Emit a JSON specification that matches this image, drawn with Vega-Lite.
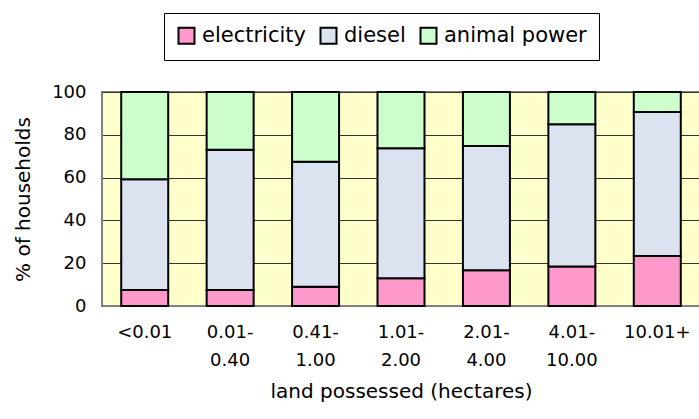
{
  "$schema": "https://vega.github.io/schema/vega-lite/v6.json",
  "width": 598,
  "height": 214,
  "autosize": {"type": "none"},
  "padding": {"left": 102, "top": 92, "right": 0, "bottom": 113},
  "background": "white",
  "data": {
    "values": [
      {"land": "<0.01", "source": "electricity", "pct": 7.5},
      {"land": "<0.01", "source": "diesel", "pct": 51.7},
      {"land": "<0.01", "source": "animal power", "pct": 40.8},
      {"land": "0.01-0.40", "source": "electricity", "pct": 7.5},
      {"land": "0.01-0.40", "source": "diesel", "pct": 65.5},
      {"land": "0.01-0.40", "source": "animal power", "pct": 27.0},
      {"land": "0.41-1.00", "source": "electricity", "pct": 9.0},
      {"land": "0.41-1.00", "source": "diesel", "pct": 58.4},
      {"land": "0.41-1.00", "source": "animal power", "pct": 32.6},
      {"land": "1.01-2.00", "source": "electricity", "pct": 13.0},
      {"land": "1.01-2.00", "source": "diesel", "pct": 60.7},
      {"land": "1.01-2.00", "source": "animal power", "pct": 26.3},
      {"land": "2.01-4.00", "source": "electricity", "pct": 16.7},
      {"land": "2.01-4.00", "source": "diesel", "pct": 58.1},
      {"land": "2.01-4.00", "source": "animal power", "pct": 25.2},
      {"land": "4.01-10.00", "source": "electricity", "pct": 18.4},
      {"land": "4.01-10.00", "source": "diesel", "pct": 66.5},
      {"land": "4.01-10.00", "source": "animal power", "pct": 15.1},
      {"land": "10.01+", "source": "electricity", "pct": 23.4},
      {"land": "10.01+", "source": "diesel", "pct": 67.3},
      {"land": "10.01+", "source": "animal power", "pct": 9.3}
    ]
  },
  "transform": [
    {"calculate": "indexof(['electricity','diesel','animal power'], datum.source)", "as": "stackOrder"}
  ],
  "mark": {"type": "bar", "stroke": "black", "strokeWidth": 2, "strokeJoin": "miter"},
  "encoding": {
    "x": {
      "field": "land",
      "type": "nominal",
      "sort": null,
      "scale": {"paddingInner": 0.45, "paddingOuter": 0.225},
      "axis": {
        "title": "land possessed (hectares)",
        "labelAngle": 0,
        "labelExpr": "indexof(datum.label, '-') > 0 ? [substring(datum.label, 0, indexof(datum.label, '-') + 1), substring(datum.label, indexof(datum.label, '-') + 1)] : datum.label",
        "labelLineHeight": 28,
        "labelBaseline": "top",
        "labelPadding": 17,
        "ticks": false,
        "domainColor": "#808080",
        "titlePadding": 12,
        "titleFontSize": 20
      }
    },
    "y": {
      "field": "pct",
      "type": "quantitative",
      "stack": "zero",
      "scale": {"domain": [0, 100], "nice": false},
      "axis": {
        "title": "% of households",
        "values": [0, 20, 40, 60, 80, 100],
        "ticks": false,
        "labelPadding": 16,
        "grid": true,
        "gridColor": "#333333",
        "gridWidth": 1,
        "domainColor": "#808080",
        "titlePadding": 18,
        "titleFontSize": 20
      }
    },
    "color": {
      "field": "source",
      "type": "nominal",
      "scale": {
        "domain": ["electricity", "diesel", "animal power"],
        "range": ["#FF99CC", "#DCE3F0", "#CCFFCC"]
      },
      "legend": {
        "title": null,
        "orient": "none",
        "direction": "horizontal",
        "legendX": 62,
        "legendY": -79,
        "padding": 12,
        "strokeColor": "black",
        "fillColor": "white",
        "symbolType": "square",
        "symbolSize": 256,
        "symbolStrokeColor": "black",
        "symbolStrokeWidth": 2,
        "symbolOpacity": 1,
        "labelFontSize": 21,
        "labelOffset": 5,
        "columnPadding": 10,
        "labelColor": "black"
      }
    },
    "order": {"field": "stackOrder", "type": "quantitative"}
  },
  "config": {
    "font": "DejaVu Sans",
    "view": {"fill": "#FFFFCC", "stroke": "#808080", "strokeWidth": 2},
    "axis": {
      "labelFont": "DejaVu Sans",
      "titleFont": "DejaVu Sans",
      "labelFontSize": 18,
      "titleFontSize": 20,
      "titleFontWeight": "normal",
      "labelColor": "black",
      "titleColor": "black"
    },
    "legend": {"labelFont": "DejaVu Sans"}
  }
}
